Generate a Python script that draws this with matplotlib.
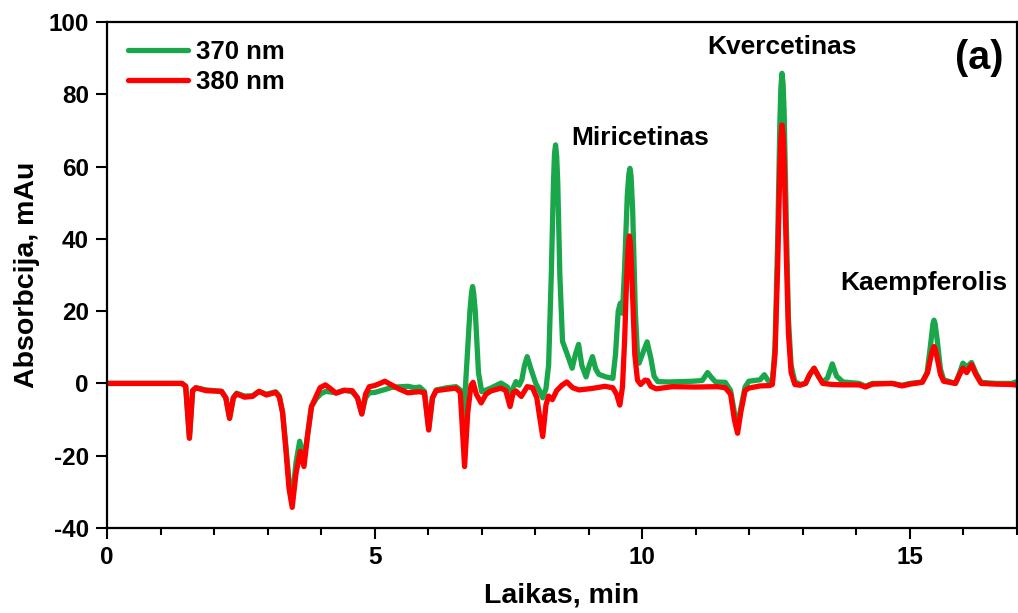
import numpy as np
import matplotlib
matplotlib.use("Agg")
import matplotlib.pyplot as plt

plt.rcParams['font.family'] = ['Liberation Sans', 'DejaVu Sans']
plt.rcParams['font.weight'] = 'bold'
plt.rcParams['axes.unicode_minus'] = False

# chromatogram at 370 nm (time in min, absorbance in mAu)
time_370 = [0, 1.40, 1.47, 1.54, 1.60, 1.66, 1.85, 2.14, 2.22, 2.29, 2.36, 2.42, 2.57, 2.72, 2.84,
            2.98, 3.15, 3.22, 3.28, 3.34, 3.40, 3.46, 3.53, 3.60, 3.68, 3.75, 3.82, 3.91, 4.00,
            4.09, 4.28, 4.43, 4.58, 4.68, 4.76, 4.83, 4.90, 5.00, 5.19, 5.32, 5.50, 5.62, 5.75,
            5.84, 5.93, 6.01, 6.08, 6.15, 6.35, 6.52, 6.60, 6.66, 6.72, 6.78, 6.81, 6.83, 6.85,
            6.88, 6.94, 7.00, 7.17, 7.36, 7.48, 7.53, 7.58, 7.64, 7.70, 7.75, 7.80, 7.85, 7.92,
            8.01, 8.08, 8.14, 8.20, 8.25, 8.30, 8.34, 8.36, 8.38, 8.40, 8.42, 8.46, 8.51, 8.58,
            8.69, 8.75, 8.81, 8.87, 8.95, 9.01, 9.07, 9.13, 9.19, 9.32, 9.45, 9.50, 9.55, 9.59,
            9.63, 9.67, 9.72, 9.75, 9.77, 9.79, 9.82, 9.87, 9.91, 9.94, 10.00, 10.09, 10.16,
            10.22, 10.29, 10.50, 10.94, 11.12, 11.22, 11.30, 11.37, 11.55, 11.65, 11.72, 11.78,
            11.84, 11.92, 11.99, 12.10, 12.20, 12.28, 12.35, 12.43, 12.48, 12.53, 12.57, 12.59,
            12.61, 12.63, 12.65, 12.69, 12.73, 12.78, 12.85, 12.95, 13.05, 13.13, 13.21, 13.29,
            13.37, 13.46, 13.55, 13.63, 13.75, 14.05, 14.17, 14.30, 14.67, 14.85, 15.00, 15.23,
            15.32, 15.38, 15.43, 15.45, 15.47, 15.51, 15.57, 15.63, 15.85, 15.93, 15.99, 16.06,
            16.15, 16.23, 16.33, 16.60, 16.90, 17.00]
abs_370 = [0, 0, -0.8, -15, -2, -1.2, -1.8, -2.2, -4, -9.5, -4, -2.7, -3.5, -3.4, -2.2,
           -3.0, -2.3, -3.5, -8, -17, -27, -32, -22, -16, -21, -14, -6.4, -4.2, -2.8,
           -2.2, -2.6, -1.9, -2.3, -4, -8.3, -4, -2.6, -2.5, -1.7, -1.1, -0.9, -0.8, -1.2,
           -1.0, -2.2, -12.5, -4, -1.8, -1.2, -0.9, -1.8, -10, 5, 20, 25, 26.8, 25,
           20, 3, -2.3, -1.3, 0.1, -1.0, -3.5, -1.5, 0.5, -0.5, 1, 5, 7.4, 4,
           0, -2, -4, -1.5, 5, 30, 55, 63.5, 66, 63, 56, 30, 11.6, 8.8,
           4.2, 8, 10.8, 5, 1.8, 5, 7.4, 4, 2.5, 1.8, 1.4, 8, 20, 22.2,
           19.4, 32, 52, 58, 59.5, 57.5, 48, 20, 8, 5.6, 8, 11.5, 7,
           2, 0.5, 0.4, 0.6, 0.8, 3, 1.5, 0.4, 0.3, -2, -8, -12,
           -7, -1, 0.6, 0.8, 1, 2.4, 0.8, 0.6, 10, 40, 72, 82,
           85.8, 83, 75, 45, 18, 5, 0.5, -0.3, 0, 2.5, 4.2, 2,
           0.3, 1.5, 5.4, 2, 0.4, 0, -0.8, 0, 0, -0.5, 0, 0.4,
           3, 10, 16.5, 17.5, 16.5, 12, 4, 1, 0, 3, 5.6, 4.5,
           5.8, 3, 0.3, 0, 0, 0.5]

# chromatogram at 380 nm
time_380 = [0, 1.40, 1.47, 1.54, 1.60, 1.66, 1.85, 2.14, 2.22, 2.29, 2.36, 2.42, 2.57, 2.72, 2.84,
            2.98, 3.15, 3.22, 3.28, 3.34, 3.40, 3.46, 3.53, 3.61, 3.68, 3.75, 3.82, 3.91, 3.98,
            4.08, 4.18, 4.28, 4.43, 4.58, 4.68, 4.76, 4.83, 4.90, 5.00, 5.10, 5.19, 5.30, 5.45,
            5.62, 5.75, 5.84, 5.93, 6.01, 6.08, 6.15, 6.35, 6.52, 6.60, 6.68, 6.74, 6.80, 6.84,
            6.90, 6.99, 7.08, 7.17, 7.36, 7.45, 7.53, 7.59, 7.64, 7.74, 7.85, 7.95, 8.03, 8.08,
            8.14, 8.20, 8.25, 8.32, 8.40, 8.50, 8.59, 8.70, 8.82, 9.06, 9.30, 9.45, 9.52, 9.58,
            9.63, 9.67, 9.71, 9.74, 9.76, 9.78, 9.81, 9.86, 9.91, 9.97, 10.05, 10.10, 10.16,
            10.26, 10.56, 11.00, 11.40, 11.55, 11.65, 11.72, 11.78, 11.84, 11.92, 11.99, 12.20,
            12.38, 12.43, 12.48, 12.53, 12.57, 12.59, 12.61, 12.63, 12.65, 12.69, 12.73, 12.78,
            12.85, 12.95, 13.05, 13.13, 13.21, 13.29, 13.37, 13.55, 13.75, 14.05, 14.17, 14.30,
            14.67, 14.85, 15.00, 15.23, 15.33, 15.40, 15.43, 15.45, 15.47, 15.51, 15.57, 15.63,
            15.85, 15.93, 15.99, 16.06, 16.15, 16.23, 16.33, 16.60, 16.90, 17.00]
abs_380 = [0, 0, -0.8, -15.2, -2, -1.2, -2.0, -2.2, -4, -9.7, -4, -2.9, -3.8, -3.6, -2.2,
           -3.2, -2.5, -3.8, -8, -18, -29, -34.3, -25, -18.8, -23, -14, -6.4, -3.5, -1.2,
           -0.4, -1.5, -2.7, -1.9, -2.0, -4, -8.5, -3, -0.9, -0.6, 0, 0.6, -0.3, -1.5,
           -2.6, -2.4, -2.3, -2.6, -12.9, -4, -2.0, -1.6, -1.3, -2.5, -23, -8, -0.5, 0.3,
           -3, -5.4, -3, -2.1, -1.3, -2, -6.4, -2.5, -2.1, -3.6, -0.9, -1.2, -4, -9,
           -14.7, -6, -3.5, -4.5, -2, -0.5, 0.4, -1.2, -1.8, -1.4, -0.8, -1.2, -3, -6,
           -1, 12, 30, 38.5, 40.8, 38.5, 28, 8, 0.9, -0.3, 0.9, 0.8, -0.8,
           -1.5, -0.9, -1.0, -0.9, -1.2, -3, -10, -13.8, -8, -2, -1.3, -0.7,
           -0.6, -0.3, 8, 33, 60, 68, 71.5, 69, 62, 36, 14, 3,
           -0.3, -0.5, 0, 2.5, 4.2, 2, 0, -0.3, -0.4, -0.4, -1.0, -0.2,
           0, -0.7, -0.2, 0.3, 3, 8, 9.6, 10.2, 9.6, 7, 2.5, 0.6,
           0, 2.5, 4.2, 3, 5.2, 2.5, 0, -0.2, -0.3, -0.5]

x_ticks = [0, 5, 10, 15]
y_ticks = [-40, -20, 0, 20, 40, 60, 80, 100]

# peak labels: (text, time, absorbance)
peak_names = ['Miricetinas', 'Kvercetinas', 'Kaempferolis']
peak_x = [9.96, 12.61, 15.26]
peak_y = [67.9, 93.1, 27.8]

fig = plt.figure(figsize=(10.18, 6.13), dpi=100)
ax = fig.add_axes([0.1051, 0.1387, 0.8939, 0.8254])

ax.plot(time_370, abs_370, color='#1aa64b', lw=3.8, label='370 nm',
        solid_joinstyle='round', solid_capstyle='round')
ax.plot(time_380, abs_380, color='#ff0000', lw=3.8, label='380 nm',
        solid_joinstyle='round', solid_capstyle='round')

ax.set_xlim(0, 17)
ax.set_ylim(-40, 100)
ax.set_xticks(x_ticks)
ax.set_xticks(np.arange(0, 17.01, 1), minor=True)
ax.set_yticks(y_ticks)
ax.tick_params(axis='both', which='major', direction='out', length=8, width=1.5,
               labelsize=17.5, pad=5)
ax.tick_params(axis='x', which='minor', direction='out', length=5, width=1.5)
for s in ax.spines.values():
    s.set_linewidth(1.6)

ax.set_xlabel('Laikas, min', fontsize=20.5, fontweight='bold', labelpad=10)
ax.set_ylabel('Absorbcija, mAu', fontsize=20.5, fontweight='bold', labelpad=6)

for name, px, py in zip(peak_names, peak_x, peak_y):
    ax.text(px, py, name, ha='center', va='center', fontsize=19, fontweight='bold')
ax.text(16.3, 90, '(a)', ha='center', va='center', fontsize=28.5, fontweight='bold')

ax.legend(loc='upper left', bbox_to_anchor=(0.012, 0.985), frameon=False,
          handlelength=2.33, handletextpad=0.3, labelspacing=0.25, borderaxespad=0,
          prop={'weight': 'bold', 'size': 18.5})

fig.savefig('out.png', dpi=100)
